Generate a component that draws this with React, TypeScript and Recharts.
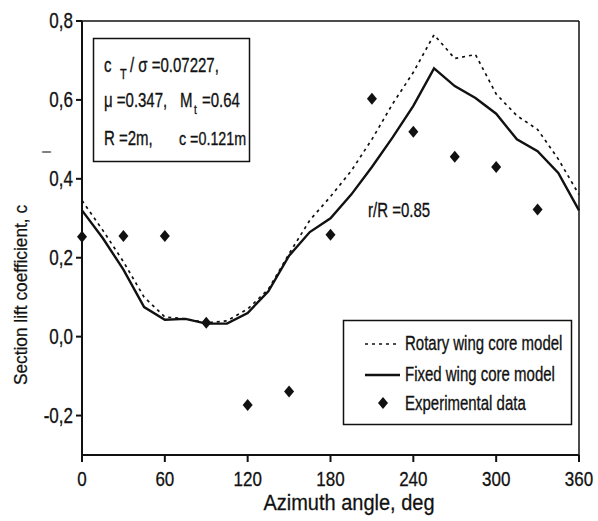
import React from 'react'
import { ComposedChart, Line, Scatter, XAxis, YAxis, ReferenceLine } from 'recharts'

const angles = [0, 15, 30, 45, 60, 75, 90, 105, 120, 135, 150, 165, 180, 195, 210, 225, 240, 255, 270, 285, 300, 315, 330, 345, 360]
const fixedWing = [0.32, 0.25, 0.17, 0.075, 0.043, 0.045, 0.033, 0.033, 0.06, 0.115, 0.205, 0.265, 0.3, 0.36, 0.43, 0.505, 0.585, 0.68, 0.635, 0.605, 0.565, 0.5, 0.47, 0.415, 0.32]
const rotaryWing = [0.345, 0.27, 0.19, 0.1, 0.05, 0.045, 0.035, 0.04, 0.07, 0.12, 0.21, 0.295, 0.355, 0.42, 0.5, 0.59, 0.67, 0.765, 0.705, 0.715, 0.615, 0.56, 0.525, 0.45, 0.36]
const expAngles = [0, 30, 60, 90, 120, 150, 180, 210, 240, 270, 300, 330]
const expValues = [0.253, 0.255, 0.255, 0.035, -0.173, -0.139, 0.258, 0.603, 0.519, 0.456, 0.43, 0.322]
const xTicks = [0, 60, 120, 180, 240, 300, 360]
const yTicks = [-0.2, 0, 0.2, 0.4, 0.6, 0.8]

const lineData = angles.map((a, i) => ({ angle: a, fixed: fixedWing[i], rotary: rotaryWing[i] }))
const expData = expAngles.map((a, i) => ({ angle: a, exp: expValues[i] }))

const font = '"Liberation Sans", Arial, sans-serif'
const ink = '#111'

// text drawn with the scan's vertical stretch
const T = ({ x, y, size, anchor = 'start', sy = 1.3, children }: any) => (
  <text transform={`translate(${x},${y}) scale(1,${sy})`} fontSize={size} textAnchor={anchor}
    fontFamily={font} fill={ink} stroke={ink} strokeWidth={0.25}>
    {children}
  </text>
)

const Diamond = (props: any) => {
  const { cx, cy } = props
  if (cx == null || cy == null) return null
  return <polygon points={`${cx},${cy - 6} ${cx + 5},${cy} ${cx},${cy + 6} ${cx - 5},${cy}`} fill={ink} />
}

const fmt = (v: number) => v.toFixed(1).replace('.', ',')

const XTick = (p: any) => <T x={p.x} y={p.y + 24} size={17} sy={1.2} anchor="middle">{p.payload.value}</T>
const YTick = (p: any) => <T x={p.x} y={p.y + 7} size={17} sy={1.25} anchor="end">{fmt(p.payload.value)}</T>

export default function App() {
  return (
    <div style={{ position: 'absolute', left: 0, top: 0, width: 598, height: 521, background: '#fff' }}>
      <ComposedChart width={598} height={521} data={lineData} margin={{ top: 21, right: 19, bottom: 0, left: 0 }}>
        <XAxis
          type="number" dataKey="angle" domain={[0, 360]} ticks={xTicks} height={66}
          stroke={ink} strokeWidth={2} tickSize={7} tickMargin={0} tick={<XTick />}
          label={{
            content: () => <T x={349} y={510} size={20} sy={1.1} anchor="middle">Azimuth angle, deg</T>,
          }}
        />
        <YAxis
          type="number" domain={[-0.3, 0.8]} ticks={yTicks} width={82}
          stroke={ink} strokeWidth={2} tickSize={6} tickMargin={3} tick={<YTick />}
          label={{
            content: () => (
              <g>
                <text transform="translate(27,295) rotate(-90) scale(0.96,1)" textAnchor="middle" fontSize={18}
                  fontFamily={font} fill={ink} stroke={ink} strokeWidth={0.25}>Section lift coefficient, c</text>
                <text transform="translate(51,152) rotate(-90)" textAnchor="middle" fontSize={12} fontFamily={font} fill={ink}>l</text>
              </g>
            ),
          }}
        />
        <ReferenceLine y={0.8} stroke={ink} strokeWidth={1.5} />
        <ReferenceLine x={360} stroke={ink} strokeWidth={1.5} />
        <Line dataKey="rotary" stroke={ink} strokeWidth={1.7} strokeDasharray="3 4" dot={false} isAnimationActive={false} />
        <Line dataKey="fixed" stroke={ink} strokeWidth={2.4} dot={false} isAnimationActive={false} />
        <Scatter data={expData} dataKey="exp" shape={Diamond} isAnimationActive={false} />
      </ComposedChart>

      <svg width={598} height={521} style={{ position: 'absolute', left: 0, top: 0, pointerEvents: 'none' }}>
        {/* parameter box */}
        <rect x={93.5} y={38.5} width={156} height={123} fill="none" stroke={ink} strokeWidth={1.5} />
        <T x={104} y={72} size={15}>c</T>
        <T x={120} y={79} size={11}>T</T>
        <T x={130} y={72} size={15}>/ σ =0.07227,</T>
        <T x={104} y={107} size={15}>μ =0.347,</T>
        <T x={180} y={107} size={15}>M</T>
        <T x={194} y={114} size={10}>t</T>
        <T x={202} y={107} size={15}>=0.64</T>
        <T x={104} y={145} size={15}>R =2m,</T>
        <T x={179} y={145} size={14.3}>c =0.121m</T>

        <T x={368} y={217} size={15}>r/R =0.85</T>

        {/* legend */}
        <rect x={343.5} y={320.5} width={228} height={104} fill="#fff" stroke={ink} strokeWidth={1.5} />
        <line x1={365} y1={344} x2={400} y2={344} stroke={ink} strokeWidth={1.7} strokeDasharray="3 4" />
        <T x={405} y={350} size={15}>Rotary wing core model</T>
        <line x1={365} y1={375} x2={400} y2={375} stroke={ink} strokeWidth={2.4} />
        <T x={405} y={381} size={15}>Fixed wing core model</T>
        <polygon points="383,397 388,403 383,409 378,403" fill={ink} />
        <T x={405} y={410} size={15}>Experimental data</T>
      </svg>
    </div>
  )
}
